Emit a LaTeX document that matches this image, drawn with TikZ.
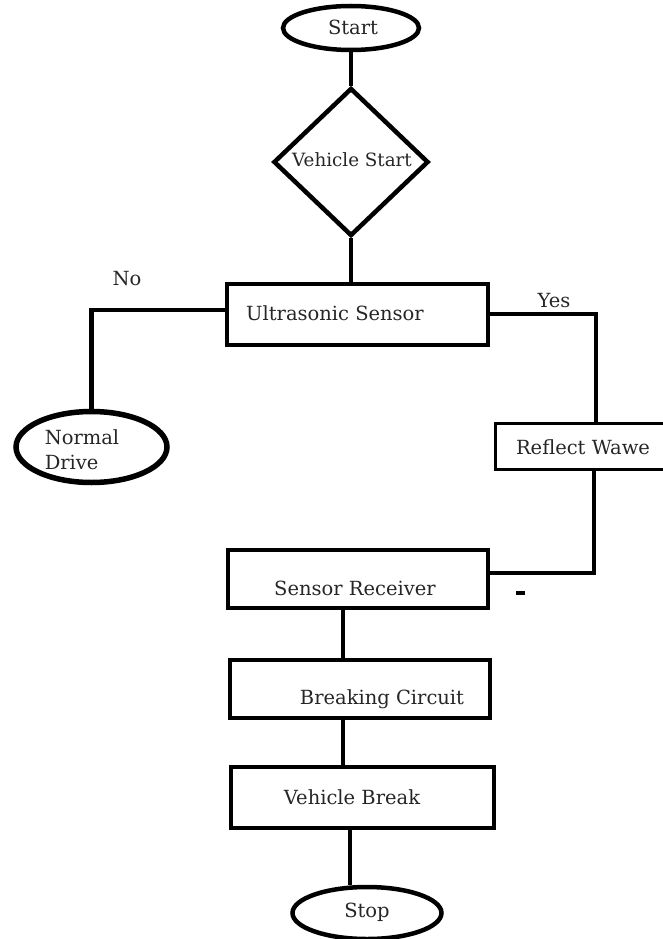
\documentclass[tikz,border=0pt]{standalone}
\usepackage{fontspec}
\setmainfont{DejaVu Serif}
\usetikzlibrary{shapes.geometric}
\definecolor{txt}{HTML}{262626}
\begin{document}
\begin{tikzpicture}[x=1pt,y=-1pt,
  box/.style={draw, rectangle, line width=4.5pt, inner sep=0pt},
  oval/.style={draw, ellipse, line width=4.5pt, inner sep=0pt},
  dia/.style={draw, diamond, line width=4.5pt, inner sep=0pt},
  lbl/.style={text=txt, inner sep=0pt, font=\fontsize{19.5}{25}\selectfont},
  conn/.style={line width=4.5pt}
]
\useasboundingbox (0,0) rectangle (662,939);
% shapes
\node[oval, minimum width=136pt, minimum height=44pt] (start) at (351,28) {};
\node[dia, minimum width=155pt, minimum height=148pt] (vs) at (351,162) {};
\node[box, minimum width=261pt, minimum height=61pt] (us) at (357.5,314.5) {};
\node[oval, line width=5.5pt, minimum width=151pt, minimum height=71pt] (nd) at (91.5,447) {};
\node[box, line width=3pt, minimum width=190pt, minimum height=46pt] (rw) at (590,446.5) {};
\node[box, minimum width=260pt, minimum height=58pt] (sr) at (358,579) {};
\node[box, minimum width=260pt, minimum height=58pt] (bc) at (360,689) {};
\node[box, minimum width=263pt, minimum height=61pt] (vb) at (362.5,797.5) {};
\node[oval, minimum width=149pt, minimum height=52pt] (stop) at (367,913) {};
% texts
\node[lbl] (tstart) at (353,27) {Start};
\node[lbl, font=\fontsize{18.3}{24}\selectfont] (tvs) at (352,160) {Vehicle Start};
\node[lbl] (tus) at (335,313) {Ultrasonic Sensor};
\node[lbl] (tno) at (127,279) {No};
\node[lbl] (tyes) at (554,301) {Yes};
\node[lbl, align=left] (tnd) at (82,450) {Normal\\Drive};
\node[lbl] (trw) at (583,447) {Reflect Wawe};
\node[lbl] (tsr) at (355,588) {Sensor Receiver};
\node[lbl] (tbc) at (382,699) {Breaking Circuit};
\node[lbl] (tvb) at (352,797) {Vehicle Break};
\node[lbl] (tstop) at (367,912) {Stop};
% helper coordinates
\coordinate (yc) at (596,314);
\coordinate (rc) at (594,573);
\coordinate (ax) at (343,0);
\coordinate (bx) at (350,0);
% connectors
\draw[conn] (start.south) -- (vs.north);
\draw[conn] (vs.south) -- (vs.south |- us.north);
\draw[conn] (us.west |- 0,310) -| (nd.north);
\draw[conn] (us.east |- yc) -- (yc) -- (yc |- rw.north);
\draw[conn] (rc |- rw.south) -- (rc) -- (sr.east |- rc);
\draw[conn] (ax |- sr.south) -- (ax |- bc.north);
\draw[conn] (ax |- bc.south) -- (ax |- vb.north);
\draw[conn] (bx |- vb.south) -- (bx |- stop.north);
% stray mark
\draw[line width=3.5pt] (516,593) -- (525,593);
\end{tikzpicture}
\end{document}
